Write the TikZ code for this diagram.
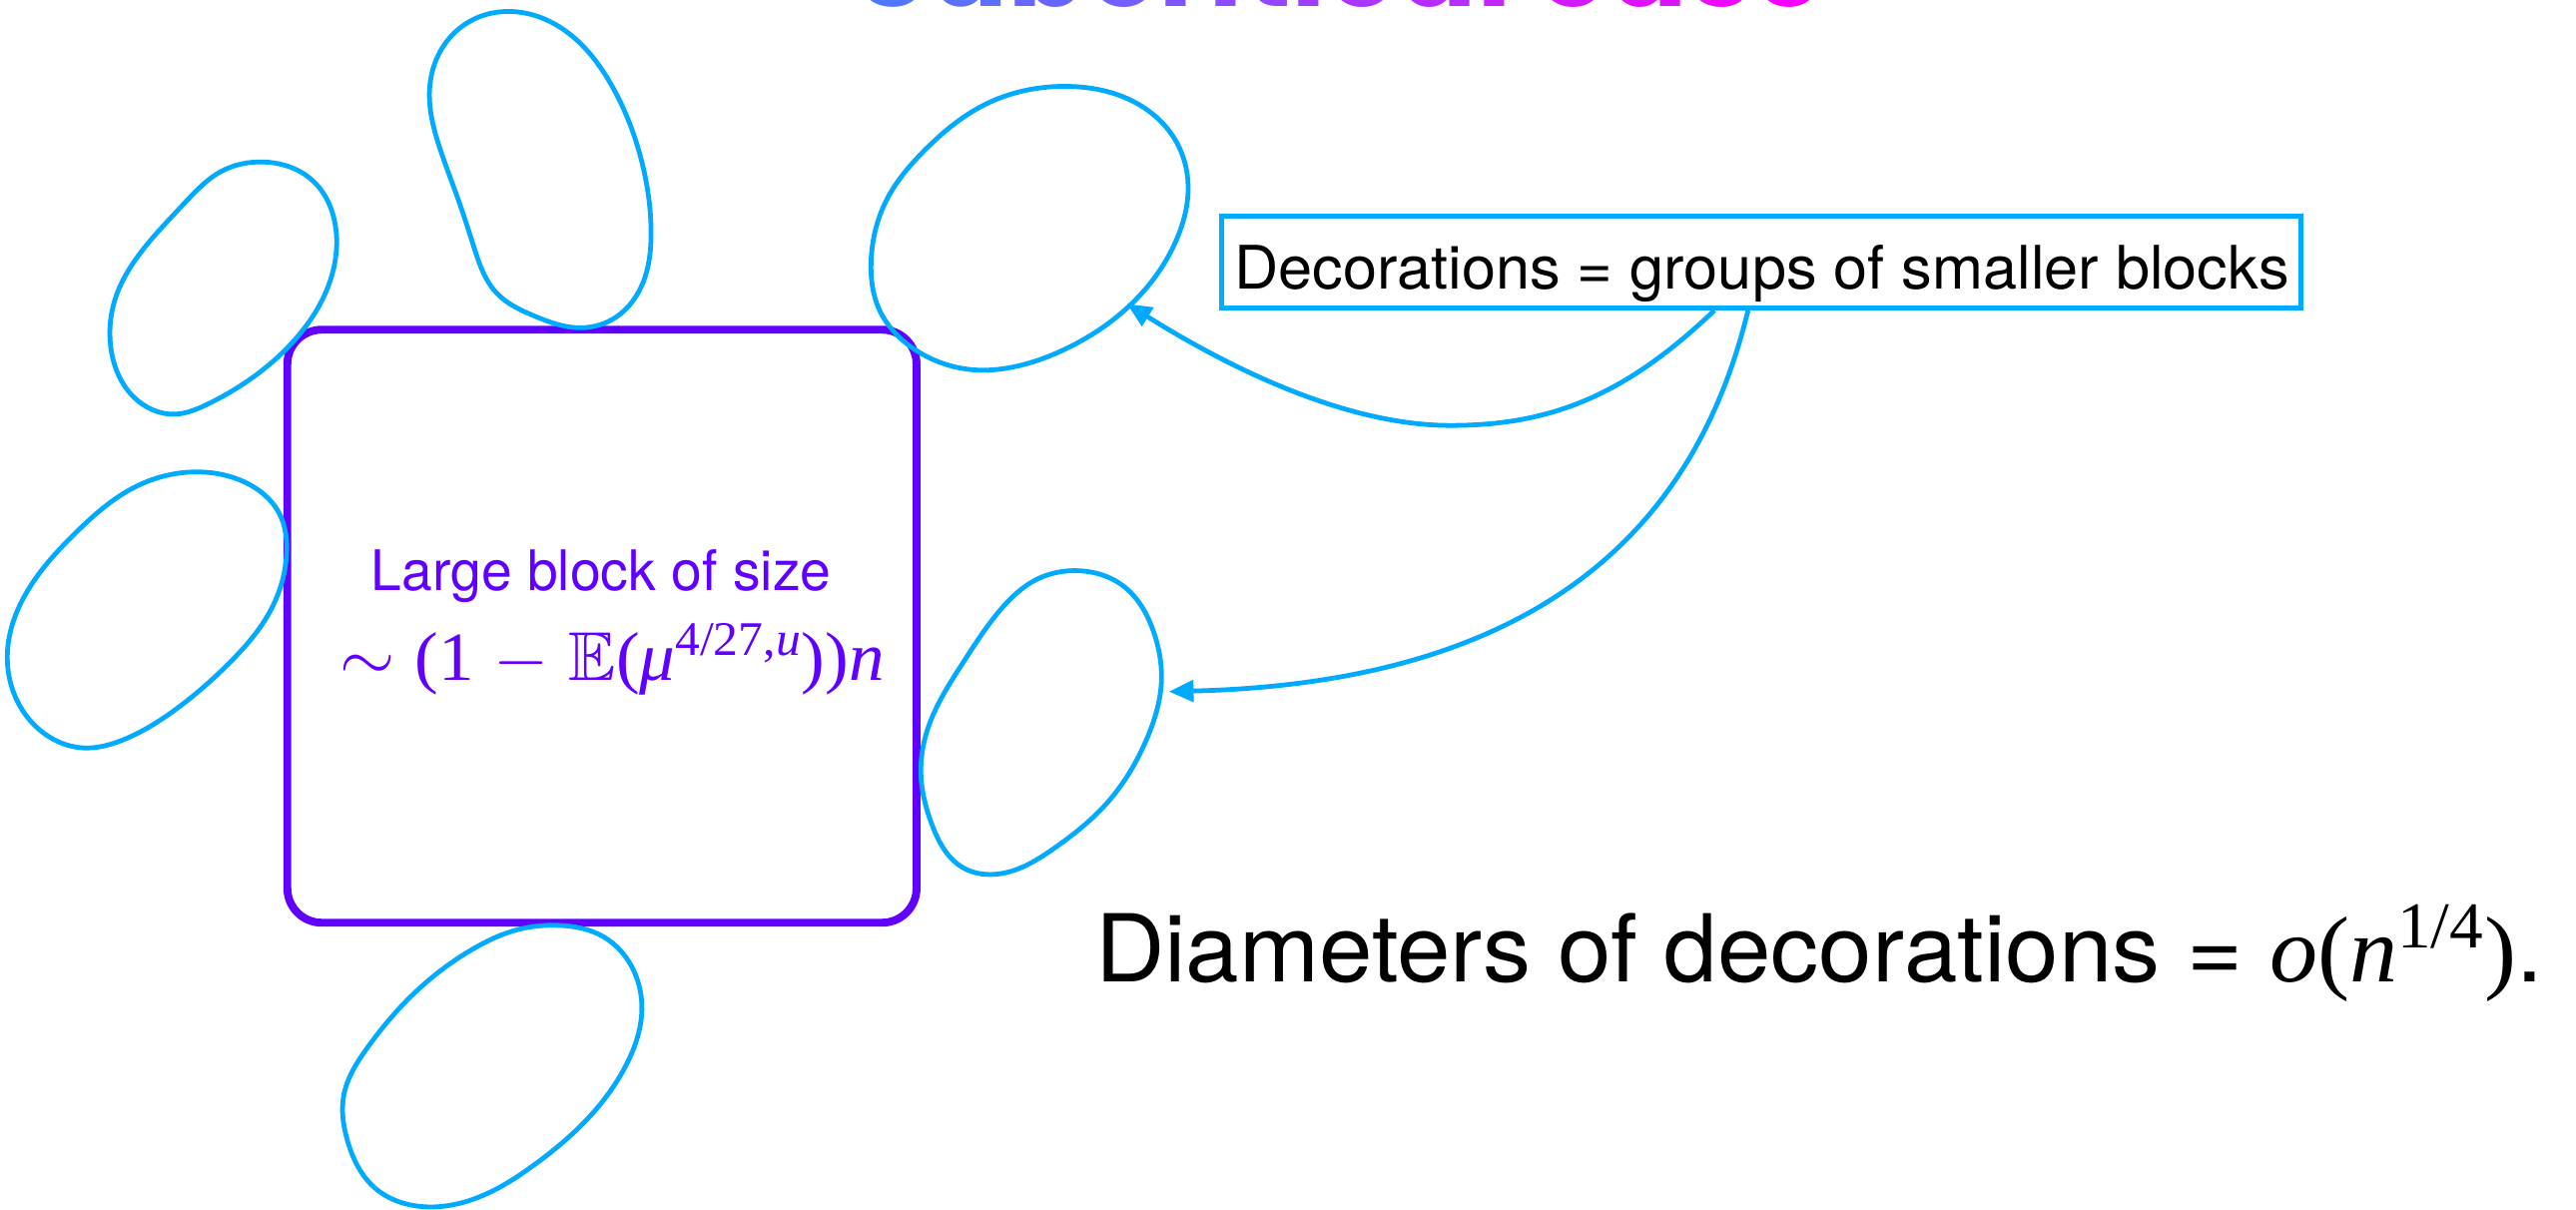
\RequirePackage{fix-cm}
\documentclass[tikz,border=0pt]{standalone}
\usepackage{amssymb}
\usepackage{fontspec}
\usepackage{graphicx}
\usetikzlibrary{arrows.meta,hobby}
\DeclareFontFamily{U}{msb}{}
\DeclareFontShape{U}{msb}{m}{n}{<-> msbm10}{}
\setmainfont{TeX Gyre Heros}
\newfontfamily\tms{Liberation Serif}
\newfontfamily\titlefont{Poppins}
\definecolor{blk}{HTML}{6000FF}
\definecolor{deco}{HTML}{00AAFF}
\definecolor{tblu}{HTML}{5078FF}
\definecolor{tmag}{HTML}{F500FF}
\newcommand{\tlet}[2]{{\color{tmag!#1!tblu}#2}}
\tikzset{
  blobline/.style={draw=deco, line width=2.9pt, use Hobby shortcut, closed=true},
  bigbox/.style={draw=blk, line width=4.8pt, rounded corners=21pt, inner sep=0pt},
  decobox/.style={draw=deco, line width=3.3pt, inner sep=0pt},
  txt/.style={inner sep=0pt, anchor=base west},
  arr/.style={draw=deco, line width=2.9pt, -{Triangle[length=15pt,width=13pt]}},
}
\begin{document}
\begin{tikzpicture}[x=1pt,y=-1pt]
\useasboundingbox (0,0) rectangle (1568,736);
\clip (0,0) rectangle (1568,736);
\fill[white] (0,0) rectangle (1568,736);

% title (cut off at the top, as in the reference)
\node[txt] (title) at (521,4) {\resizebox{590pt}{\height}{\titlefont\bfseries\fontsize{74}{80}\selectfont
\tlet{0}{S}\tlet{7}{u}\tlet{14}{b}\tlet{21}{c}\tlet{28}{r}\tlet{35}{i}\tlet{42}{t}\tlet{48}{i}\tlet{55}{c}\tlet{62}{a}\tlet{69}{l} \tlet{79}{c}\tlet{86}{a}\tlet{93}{s}\tlet{100}{e}}};

% large block
\node[bigbox, minimum width=383pt, minimum height=361pt] (big) at (366.4,381.2) {};
\node[txt, text=blk] (bigt1) at (225.7,359.6) {\resizebox{280pt}{\height}{\fontsize{34}{40}\selectfont Large block of size}};
\node[txt, text=blk] (bigt2) at (207,414) {\resizebox{331pt}{\height}{\fontsize{42}{50}\selectfont $\sim$\ {\tms(1}\ $-$\ $\mathbb{E}${\tms(\textit{μ}\textsuperscript{4/27,\textit{u}}))\textit{n}}}};

% decorations (blobs)
\draw[blobline] (160.5,98.6) .. (190.7,110.3) .. (204.6,140.8) .. (200,173.7) .. (183.7,201.8) .. (153.5,230) .. (125.6,246.4) .. (107,252.1) .. (81.4,241.7) .. (67.4,211.2) .. (69.8,183) .. (88.4,150.2) .. (111.6,124.4) .. (134.9,104.2);
\draw[blobline] (311.6,7) .. (344.2,18.8) .. (372.1,51.6) .. (390.7,98.6) .. (396.3,140.8) .. (390.7,173.7) .. (372.1,194.8) .. (351.2,199.5) .. (325.6,192.5) .. (302.3,178.4) .. (288.4,150.2) .. (279.1,122) .. (267.4,89.2) .. (261.4,56.3) .. (269.8,28.2) .. (288.4,11.7);
\draw[blobline] (651.1,52.6) .. (688.3,61) .. (716.3,86.8) .. (723.2,112.7) .. (716.3,145.5) .. (688.3,185.4) .. (651.1,211.2) .. (618.6,223) .. (595.3,225.3) .. (558.1,213.6) .. (534.9,187.8) .. (530.2,159.6) .. (539.5,122) .. (562.8,91.5) .. (600,63.4);
\draw[blobline] (120.9,287.3) .. (148.8,293.4) .. (169.8,312.2) .. (174.4,338) .. (165.1,370.8) .. (139.5,403.7) .. (107,431.8) .. (74.4,450.6) .. (51.2,455.3) .. (23.3,443.6) .. (7,417.8) .. (4.7,394.3) .. (18.6,356.7) .. (46.5,323.9) .. (83.7,295.7);
\draw[blobline] (655.8,347.4) .. (683.7,356.7) .. (702.3,384.9) .. (707,413.1) .. (697.7,450.6) .. (674.4,488.2) .. (641.8,516.3) .. (609.3,531.8) .. (586,528.1) .. (567.4,502.3) .. (560.5,469.4) .. (567.4,436.5) .. (586,403.7) .. (609.3,370.8) .. (632.5,352);
\draw[blobline] (339.5,563.3) .. (367.4,570.3) .. (386,591.4) .. (390.7,614.9) .. (381.4,647.8) .. (358.1,680.6) .. (325.6,708.8) .. (288.4,729.9) .. (258.1,734.6) .. (227.9,722.9) .. (211.6,694.7) .. (209.3,666.5) .. (223.2,638.4) .. (251.2,605.5) .. (288.4,577.4) .. (316.3,565.6);

% label box
\node[decobox, minimum width=657pt, minimum height=56pt] (dec) at (1072,159.5) {};
\node[txt] (dect) at (751.2,175.9) {\resizebox{642pt}{\height}{\fontsize{36.5}{42}\selectfont Decorations = groups of smaller blocks}};

% arrows
\coordinate (s1) at (1043.5,189);
\coordinate (s2) at (1064,189);
\coordinate (tip1) at (686,185);
\coordinate (tip2) at (711.5,421);
\coordinate (low1) at (883,259);
\draw[arr] (s1) .. controls (990,240) and (945,259) .. (low1) .. controls (820,259) and (750,225) .. (tip1);
\draw[arr] (s2) .. controls (1037,300) and (960,415) .. (tip2);

% diameters text
\node[txt] (diam) at (666.6,598) {\resizebox{881pt}{\height}{\fontsize{57}{66}\selectfont Diameters of decorations = {\tms\textit{o}(\textit{n}\textsuperscript{1/4})}.}};
\end{tikzpicture}
\end{document}
